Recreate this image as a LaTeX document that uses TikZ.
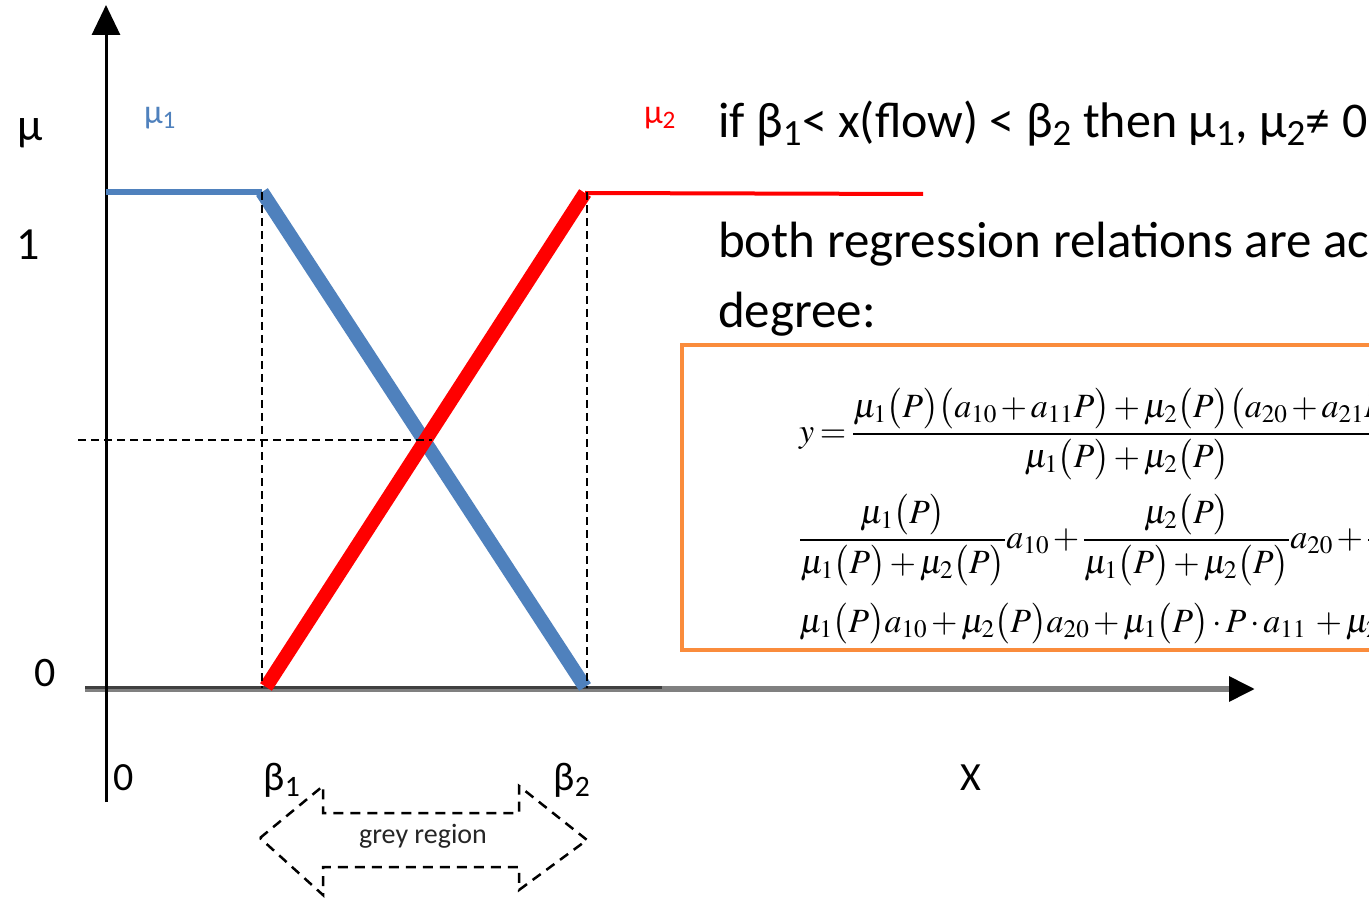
\documentclass[tikz,border=0pt]{standalone}
\usepackage{mathptmx}
\usepackage[no-math]{fontspec}
\setmainfont{Carlito}
\usetikzlibrary{arrows.meta}
\definecolor{mublue}{RGB}{79,129,189}
\definecolor{mured}{RGB}{255,0,0}
\definecolor{boxorange}{RGB}{250,140,60}
\definecolor{axisgray}{RGB}{128,128,128}
\definecolor{axisdark}{RGB}{64,64,64}
\newcommand{\pp}[1]{\bigl(#1\bigr)}
\tikzset{
  lbl/.style={inner sep=0pt, font=\fontsize{40}{44}\selectfont},
  bigtxt/.style={inner sep=0pt, anchor=base west, font=\fontsize{51}{56}\selectfont},
  eq/.style={inner sep=0pt, font=\fontsize{34}{40}\selectfont},
  guide/.style={black, line width=2.4pt, dash pattern=on 8pt off 5pt},
  thickmf/.style={line width=14pt},
}
\begin{document}
\begin{tikzpicture}[x=1pt,y=-1pt]
\useasboundingbox (0,0) rectangle (1369,901);
\clip (0,0) rectangle (1369,901);
\fill[white] (0,0) rectangle (1369,901);
% coordinates
\coordinate (xstart) at (85,689);
\coordinate (xend) at (1255,689);
\coordinate (ystart) at (106,802);
\coordinate (yend) at (106,5);
\coordinate (b1top) at (262,192);
\coordinate (b1bot) at (262,688);
\coordinate (b2top) at (587,192);
\coordinate (b2bot) at (587,688);
\coordinate (blueL) at (106,192);
\coordinate (blueA) at (262,192);
\coordinate (blueB) at (585,687);
\coordinate (redA) at (266,687);
\coordinate (redB) at (585,193);
\coordinate (redR) at (923,194);
\coordinate (hL) at (78,440);
\coordinate (hR) at (432,440);
% axes
\draw[axisgray, line width=6pt, -{Triangle[width=24pt,length=26pt,color=black]}] (xstart) -- (xend);
\draw[axisdark, line width=3pt] (85,687.5) -- (662,687.5);
\draw[black, line width=3pt, -{Triangle[width=28pt,length=30pt]}] (ystart) -- (yend);
% membership functions
\draw[mublue, line width=6pt] (blueL) -- (blueA);
\draw[mured, line width=4pt] (redB) -- (redR);
\draw[mublue, thickmf] (blueA) -- (blueB);
\draw[mured, thickmf] (redA) -- (redB);
% guides
\draw[guide] (b1top) -- (b1bot);
\draw[guide] (b2top) -- (b2bot);
\draw[guide] (hL) -- (hR);
% axis labels
\node[lbl, font=\fontsize{46}{50}\selectfont] (mu) at (30,133) {μ};
\node[lbl, font=\fontsize{46}{50}\selectfont] (one) at (28,245) {1};
\node[lbl, font=\fontsize{42}{46}\selectfont] (zeroy) at (45,673) {0};
\node[lbl] (zerox) at (124,778) {0};
\node[lbl] (beta1) at (282,780) {β\textsubscript{1}};
\node[lbl] (beta2) at (572,780) {β\textsubscript{2}};
\node[lbl] (xlab) at (971,778) {X};
\node[lbl, mublue, font=\fontsize{34}{38}\selectfont] (mu1) at (160,118) {μ\textsubscript{1}};
\node[lbl, mured, font=\fontsize{34}{38}\selectfont] (mu2) at (660,118) {μ\textsubscript{2}};
% text
\node[bigtxt, font=\fontsize{50}{56}\selectfont] (cond) at (718,138) {if β\textsubscript{1}< x(flow) < β\textsubscript{2} then μ\textsubscript{1}, μ\textsubscript{2}≠ 0};
\node[bigtxt] (both) at (718,258) {both regression relations are active to some};
\node[bigtxt] (deg) at (718,328) {degree:};
% formula box
\draw[boxorange, line width=3.5pt] (682,345) rectangle (1400,650);
\node[eq, anchor=west] (eq1) at (799,434) {$\medmuskip=2mu\thinmuskip=1mu\thickmuskip=3mu\displaystyle y=\frac{\mu_1\pp{P}\pp{a_{10}+a_{11}P}+\mu_2\pp{P}\pp{a_{20}+a_{21}P}}{\mu_1\pp{P}+\mu_2\pp{P}}$};
\node[eq, anchor=west] (eq2) at (799,540) {$\medmuskip=2mu\thinmuskip=1mu\thickmuskip=3mu\displaystyle \frac{\mu_1\pp{P}}{\mu_1\pp{P}+\mu_2\pp{P}}a_{10}+\frac{\mu_2\pp{P}}{\mu_1\pp{P}+\mu_2\pp{P}}a_{20}+\frac{\mu_1\pp{P}P}{\mu_1\pp{P}+\mu_2\pp{P}}a_{11}$};
\node[eq, anchor=base west] (eq3) at (799,632) {$\medmuskip=2mu\thinmuskip=1mu\thickmuskip=3mu\displaystyle \mu_1\pp{P}a_{10}+\mu_2\pp{P}a_{20}+\mu_1\pp{P}\cdot P\cdot a_{11}\;+\mu_2\pp{P}\cdot P\cdot a_{21}$};
% grey region double arrow
\draw[black, line width=2.5pt, dash pattern=on 10pt off 7pt]
  (260,838) -- (323,786) -- (323,813) -- (519,813) -- (519,786) -- (587,840)
  -- (519,890) -- (519,867) -- (323,867) -- (323,895) -- cycle;
\node[inner sep=0pt, font=\fontsize{28}{32}\selectfont, text=black!85] (grey) at (423,836) {grey region};
\end{tikzpicture}
\end{document}
